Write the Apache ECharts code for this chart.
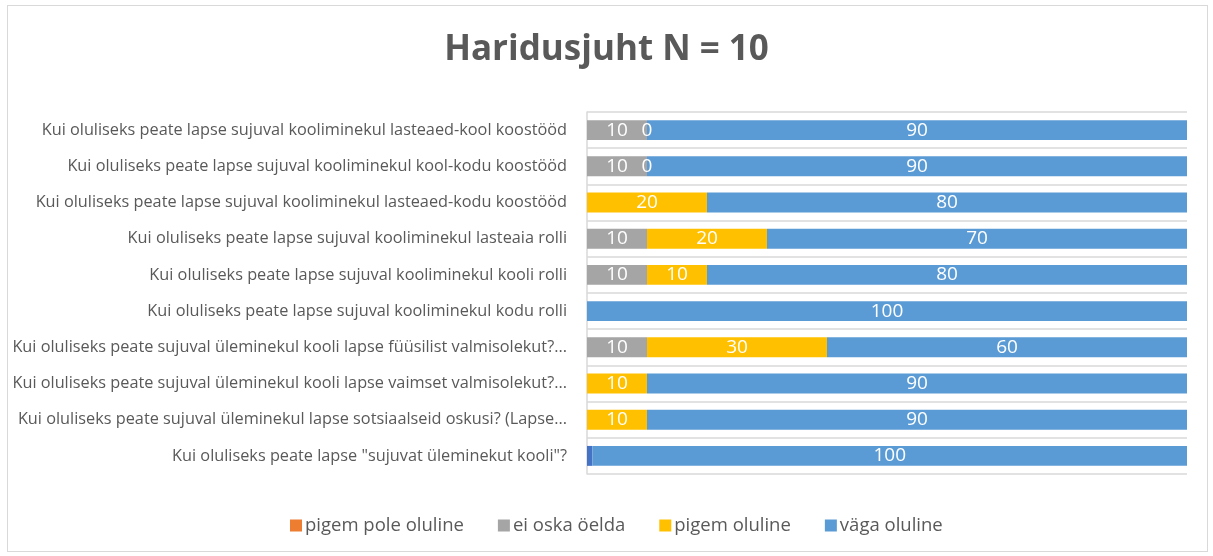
<!DOCTYPE html>
<html>
<head>
<meta charset="utf-8">
<script src="https://cdn.jsdelivr.net/npm/echarts@6/dist/echarts.min.js"></script>
<style>
html, body { margin: 0; padding: 0; background: #fff; }
#frame { position: absolute; left: 7px; top: 5px; width: 1199px; height: 545px; border: 1px solid #d9d9d9; }
#c1 { position: absolute; left: -8px; top: -6px; width: 1213px; height: 556px; }
</style>
</head>
<body>
<div id="frame"><div id="c1"></div></div>
<script>
// questions, top to bottom
var categories = [
    'Kui oluliseks peate lapse sujuval kooliminekul lasteaed-kool koostööd',
    'Kui oluliseks peate lapse sujuval kooliminekul kool-kodu koostööd',
    'Kui oluliseks peate lapse sujuval kooliminekul lasteaed-kodu koostööd',
    'Kui oluliseks peate lapse sujuval kooliminekul lasteaia rolli',
    'Kui oluliseks peate lapse sujuval kooliminekul kooli rolli',
    'Kui oluliseks peate lapse sujuval kooliminekul kodu rolli',
    'Kui oluliseks peate sujuval üleminekul kooli lapse füüsilist valmisolekut?...',
    'Kui oluliseks peate sujuval üleminekul kooli lapse vaimset valmisolekut?...',
    'Kui oluliseks peate sujuval üleminekul lapse sotsiaalseid oskusi? (Lapse...',
    'Kui oluliseks peate lapse "sujuvat üleminekut kooli"?'
];

// '-' = no bar at all
var pole_yldse   = ['-', '-', '-', '-', '-', '-', '-', '-', '-', 0.9];
var pigem_pole   = ['-', '-', '-', '-', '-', '-', '-', '-', '-', '-'];
var ei_oska      = [10, 10, '-', 10, 10, '-', 10, '-', '-', '-'];
var pigem        = [0, 0, 20, 20, 10, '-', 30, 10, 10, '-'];
var vaga         = [90, 90, 80, 70, 80, 100, 60, 90, 90, 100];

var legendNames = ['pigem pole oluline', 'ei oska öelda', 'pigem oluline', 'väga oluline'];

var dom = document.getElementById("c1");
var myChart = echarts.init(dom);
var option = null;

var barLabel = {
    show: true,
    position: 'inside',
    color: '#fff',
    fontSize: 19,
    fontFamily: 'Open Sans'
};

option = {
    textStyle: { fontFamily: 'Open Sans' },
    title: {
        text: 'Haridusjuht N = 10',
        left: 'center',
        top: 28,
        textStyle: { fontSize: 35, fontWeight: 'bold', color: '#595959', fontFamily: 'Open Sans' }
    },
    legend: {
        data: legendNames,
        bottom: 16,
        left: 285,
        itemWidth: 12,
        itemHeight: 12,
        itemGap: 34,
        icon: 'rect',
        textStyle: { fontSize: 18.5, color: '#595959', fontFamily: 'Open Sans', padding: [0, 0, 0, -2] }
    },
    grid: {
        left: 587,
        right: 26,
        top: 112,
        bottom: 82,
        containLabel: false
    },
    xAxis: {
        type: 'value',
        min: 0,
        max: 100,
        show: false
    },
    yAxis: {
        type: 'category',
        inverse: true,
        data: categories,
        axisTick: { show: false },
        axisLine: { show: true, lineStyle: { color: '#d9d9d9', width: 1.5 } },
        splitLine: { show: true, lineStyle: { color: '#d9d9d9', width: 1.5 } },
        axisLabel: { color: '#595959', fontSize: 16.3, fontFamily: 'Open Sans', margin: 20 }
    },
    series: [
        {
            name: 'pole üldse oluline',
            type: 'bar',
            stack: 'a',
            barCategoryGap: '45%',
            itemStyle: { color: '#4472C4' },
            data: pole_yldse
        },
        {
            name: 'pigem pole oluline',
            type: 'bar',
            stack: 'a',
            itemStyle: { color: '#ED7D31' },
            label: barLabel,
            data: pigem_pole
        },
        {
            name: 'ei oska öelda',
            type: 'bar',
            stack: 'a',
            itemStyle: { color: '#A5A5A5' },
            label: barLabel,
            data: ei_oska
        },
        {
            name: 'pigem oluline',
            type: 'bar',
            stack: 'a',
            itemStyle: { color: '#FFC000' },
            label: barLabel,
            data: pigem
        },
        {
            name: 'väga oluline',
            type: 'bar',
            stack: 'a',
            itemStyle: { color: '#5B9BD5' },
            label: barLabel,
            data: vaga
        }
    ]
};

if (option && typeof option === "object") {
    myChart.setOption(option, true);
}
</script>
</body>
</html>
